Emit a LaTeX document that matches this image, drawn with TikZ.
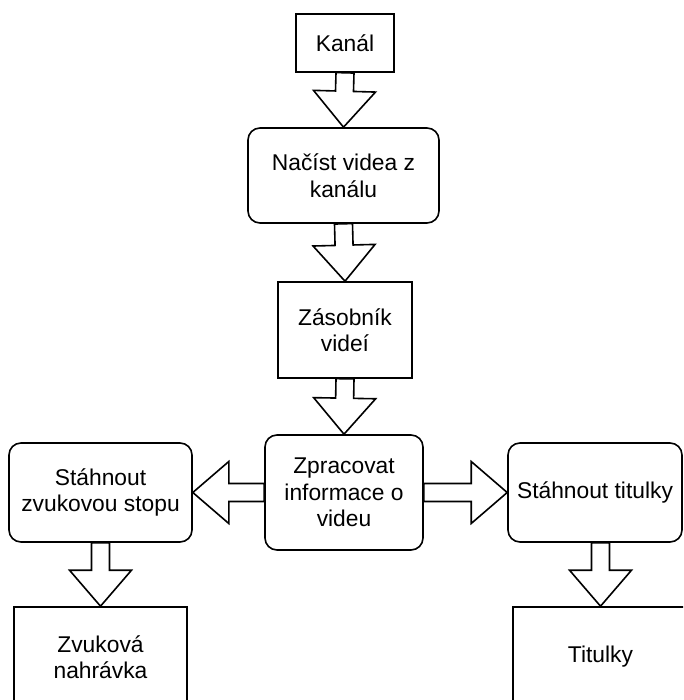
\documentclass[tikz,border=0pt]{standalone}
\usepackage{fontspec}
\setmainfont{Liberation Sans}
\usetikzlibrary{calc}
\tikzset{
  box/.style={draw, line width=1.6pt, fill=white, inner sep=0pt, align=center,
    font=\fontsize{22.8}{26.5}\selectfont},
  rbox/.style={box, rounded corners=12pt},
  barrowstyle/.style={draw, line width=1.6pt, fill=white, line join=miter},
}
\newcommand\blockarr[2]{%
  \path coordinate (ba-h) at ($(#2)!36pt!(#1)$);
  \draw[barrowstyle] ($(#1)!9pt!90:(#2)$) -- ($(ba-h)!9pt!90:(#2)$) -- ($(ba-h)!31pt!90:(#2)$) -- (#2) -- ($(ba-h)!31pt!-90:(#2)$) -- ($(ba-h)!9pt!-90:(#2)$) -- ($(#1)!9pt!-90:(#2)$) -- cycle;
}
\begin{document}
\begin{tikzpicture}[x=1pt,y=-1pt]
\useasboundingbox (0,0) rectangle (683,700);
\fill[white] (0,0) rectangle (683,700);
\clip (0,0) rectangle (683,700);
\node[box, minimum width=98pt, minimum height=58pt] (kanal) at (345,43) {Kanál};
\node[rbox, minimum width=191pt, minimum height=95pt] (nacist) at (343.5,175.5) {Načíst videa z\\kanálu};
\node[box, minimum width=134pt, minimum height=96pt] (zas) at (345,330) {Zásobník\\videí};
\node[rbox, minimum width=158pt, minimum height=115pt] (zpr) at (344,492.5) {Zpracovat\\informace o\\videu};
\node[rbox, minimum width=183pt, minimum height=99pt] (szv) at (100.5,492.5) {Stáhnout\\zvukovou stopu};
\node[rbox, minimum width=174pt, minimum height=99pt] (stit) at (595,492.5) {Stáhnout titulky};
\node[box, minimum width=173pt, minimum height=100pt] (zvn) at (100.5,657) {Zvuková\\nahrávka};
\node[box, minimum width=175pt, minimum height=100pt] (tit) at (600.5,657) {Titulky};
\coordinate (st2) at (stit.south -| tit.north);
\blockarr{kanal.south}{nacist.north}
\blockarr{nacist.south}{zas.north}
\blockarr{zas.south}{zpr.north}
\blockarr{zpr.west}{szv.east}
\blockarr{zpr.east}{stit.west}
\blockarr{szv.south}{zvn.north}
\blockarr{st2}{tit.north}
\end{tikzpicture}
\end{document}
